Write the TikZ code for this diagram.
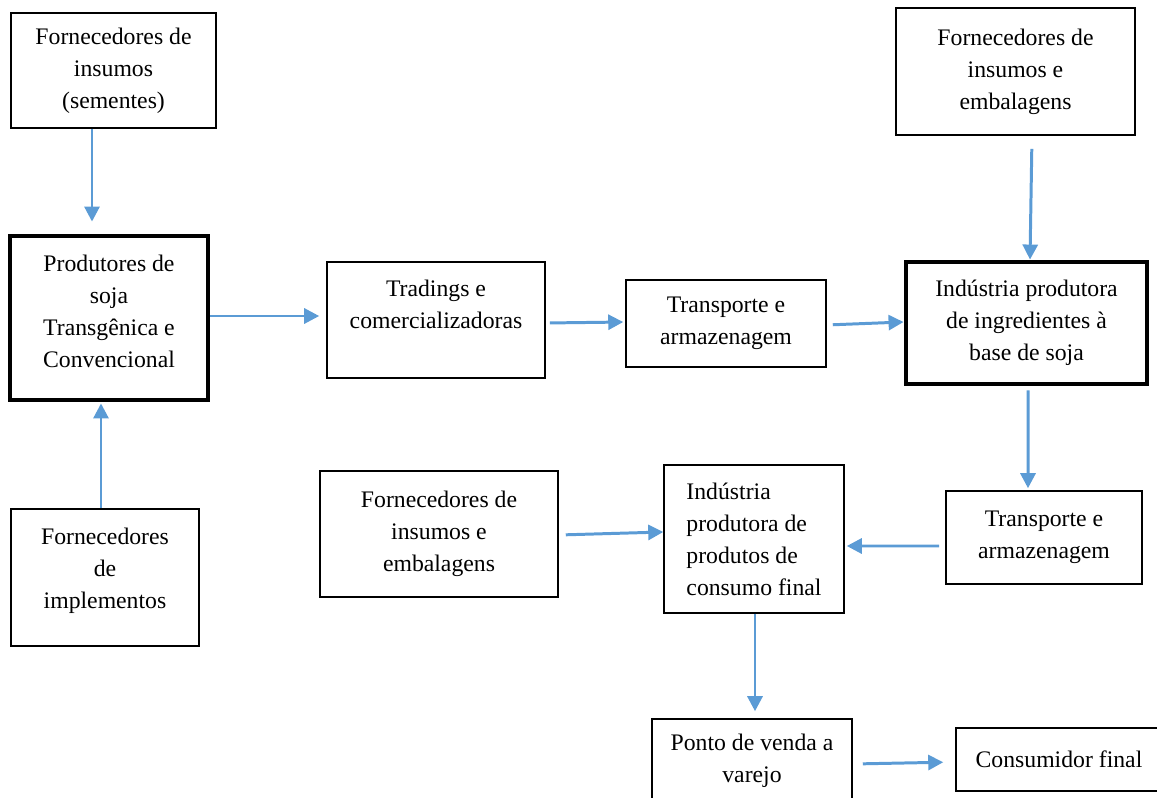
\documentclass[tikz,border=0pt]{standalone}
\usepackage{fontspec}
\setmainfont{Liberation Serif}
\usepackage{tikz}
\usetikzlibrary{arrows.meta,calc}

\definecolor{flowblue}{HTML}{5B9BD5}

\begin{document}
\begin{tikzpicture}[x=0.02cm, y=-0.02cm, >={Triangle[length=0.3cm,width=0.3cm]},
  every node/.style={font=\fontsize{13.5}{18.2}\selectfont},
  box/.style={draw, line width=0.9pt, align=center, inner sep=2pt},
  keybox/.style={box, line width=2.8pt},
  flow/.style={->, draw=flowblue, fill=flowblue, line width=1.7pt}]
  \useasboundingbox (0,0) rectangle (1157,798);
  % left column
  \node[box, minimum width=4.1cm, minimum height=2.3cm] (fsem) at (113.5,70.5)
    {Fornecedores de\\insumos\\(sementes)};
  \node[keybox, minimum width=3.96cm, minimum height=3.28cm, text depth=8pt] (prod) at (109,318)
    {Produtores de\\soja\\Transgênica e\\Convencional};
  \node[box, minimum width=3.76cm, minimum height=2.74cm, text depth=11pt] (fimp) at (105,577.5)
    {Fornecedores\\de\\implementos};
  % upper row
  \node[box, minimum width=4.36cm, minimum height=2.32cm, text depth=18pt] (trad) at (436,320)
    {Tradings e\\comercializadoras};
  \node[box, minimum width=4.0cm, minimum height=1.74cm] (trans1) at (726,323.5)
    {Transporte e\\armazenagem};
  \node[keybox, minimum width=4.82cm, minimum height=2.44cm] (ingr) at (1026.5,323)
    {Indústria produtora\\de ingredientes à\\base de soja};
  \node[box, minimum width=4.78cm, minimum height=2.54cm] (femb1) at (1015.5,71.5)
    {Fornecedores de\\insumos e\\embalagens};
  % lower row
  \node[box, minimum width=3.92cm, minimum height=1.86cm] (trans2) at (1044,537.5)
    {Transporte e\\armazenagem};
  \node[box, align=left, minimum width=3.6cm, minimum height=2.96cm] (cons) at (754,539)
    {Indústria\\produtora de\\produtos de\\consumo final};
  \node[box, minimum width=4.76cm, minimum height=2.52cm] (femb2) at (439,534)
    {Fornecedores de\\insumos e\\embalagens};
  \node[box, minimum width=4.0cm, minimum height=1.68cm] (venda) at (752,761)
    {Ponto de venda a\\varejo};
  \node[box, minimum width=4.12cm, minimum height=1.26cm] (final) at (1059,759.5)
    {Consumidor final};
  % flows
  \draw[flow, shorten >=0.24cm] ($(fsem.south)+(-21.5,0)$) -- ($(prod.north)+(-17,0)$);
  \draw[flow, shorten >=0.02cm] ($(fimp.north)+(-4,0)$) -- ($(prod.south)+(-8,0)$);
  \draw[flow, shorten >=0.14cm] ($(prod.east)+(0,-2)$) -- ($(trad.west)+(0,-4)$);
  \draw[flow, shorten <=0.08cm, shorten >=0.04cm] ($(trad.east)+(0,3)$) -- ($(trans1.west)+(0,-1.5)$);
  \draw[flow, shorten <=0.12cm] ($(trans1.east)+(0,1.5)$) -- ($(ingr.west)+(0,-1)$);
  \draw[flow, shorten <=0.26cm] ($(femb1.south)+(16.5,0)$) -- ($(ingr.north)+(3.5,0)$);
  \draw[flow, shorten <=0.08cm, shorten >=0.04cm] ($(ingr.south)+(1.5,0)$) -- ($(trans2.north)+(-16,0)$);
  \draw[flow, shorten <=0.12cm, shorten >=0.04cm] ($(trans2.west)+(0,8.5)$) -- ($(cons.east)+(0,7)$);
  \draw[flow, shorten <=0.14cm] ($(femb2.east)+(0,1)$) -- ($(cons.west)+(0,-7)$);
  \draw[flow, shorten >=0.14cm] ($(cons.south)+(1,0)$) -- ($(venda.north)+(3,0)$);
  \draw[flow, shorten <=0.2cm, shorten >=0.24cm] ($(venda.east)+(0,3)$) -- ($(final.west)+(0,2.5)$);
\end{tikzpicture}
\end{document}
